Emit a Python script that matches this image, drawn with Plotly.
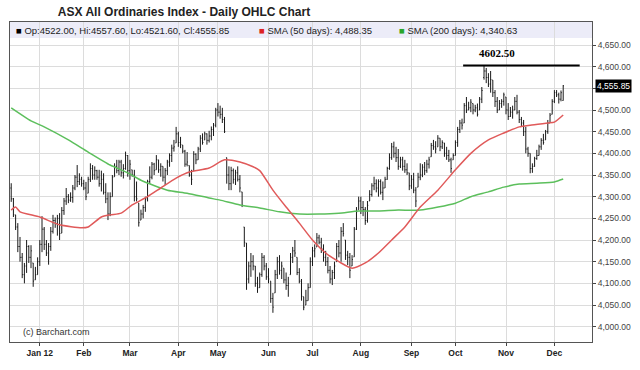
import plotly.graph_objects as go
import pandas as pd

# ---------------- data ----------------
start_date = "2011-12-12"
end_date = "2012-12-07"
holidays = ["2011-12-26", "2011-12-27", "2012-01-02", "2012-01-26",
            "2012-04-06", "2012-04-09", "2012-04-25", "2012-06-11"]

opens = [
    4320, 4295, 4258, 4230, 4185, 4160, 4120, 4140, 4185, 4160, 4147, 4108, 4120,
    4150, 4190, 4225, 4190, 4170, 4185, 4220, 4245, 4238, 4250, 4216, 4268,
    4290, 4300, 4292, 4298, 4320, 4345, 4335, 4340, 4330, 4320, 4308,
    4340, 4365, 4350, 4360, 4345, 4330, 4340, 4310, 4295, 4260, 4300,
    4346, 4370, 4360, 4380, 4355, 4365, 4395, 4360, 4362, 4350, 4300,
    4285, 4246, 4260, 4275, 4295, 4335, 4345, 4375, 4362, 4385, 4362,
    4370, 4345, 4360, 4380, 4395, 4412, 4424, 4445, 4425, 4419, 4405,
    4375, 4372, 4350, 4360, 4398, 4385, 4410, 4435, 4431, 4445, 4430,
    4440, 4455, 4465, 4500, 4495, 4490, 4478, 4390, 4350, 4330, 4360,
    4340, 4355, 4340, 4311, 4230, 4193, 4110, 4140, 4150, 4140, 4100, 4090, 4120, 4160,
    4140, 4115, 4105, 4065, 4078, 4120, 4150, 4130, 4135, 4108, 4095, 4120, 4160, 4175, 4160,
    4125, 4105, 4069, 4050, 4060, 4090, 4150, 4175, 4184, 4205, 4195, 4180, 4160, 4150, 4130,
    4110, 4125, 4150, 4185, 4170, 4220, 4200, 4165, 4160, 4140, 4161, 4225, 4270, 4290, 4275,
    4270, 4245, 4290, 4305, 4325, 4330, 4320, 4335, 4310, 4320, 4340, 4365, 4390, 4415, 4400,
    4390, 4370, 4385, 4370, 4362, 4355, 4325, 4340, 4315, 4322, 4345, 4350, 4368, 4360, 4375,
    4392, 4418, 4415, 4415, 4435, 4415, 4424, 4400, 4395, 4385, 4385, 4395, 4425, 4455, 4470,
    4470, 4510, 4500, 4505, 4515, 4500, 4505, 4500, 4525, 4575, 4590, 4575, 4560, 4569, 4540,
    4520, 4500, 4515, 4520, 4530, 4500, 4485, 4495, 4500, 4520, 4495, 4478, 4470, 4450, 4410,
    4400, 4365, 4370, 4388, 4395, 4415, 4430, 4431, 4450, 4470, 4490, 4520, 4540, 4535, 4525, 4522.00,
]

highs = [
    4331, 4297, 4258, 4239, 4207, 4170, 4147, 4200, 4188, 4188, 4147, 4138, 4160,
    4200, 4255, 4230, 4200, 4193, 4230, 4258, 4252, 4258, 4262, 4276, 4297,
    4320, 4306, 4310, 4327, 4350, 4373, 4354, 4346, 4339, 4334, 4346,
    4377, 4373, 4370, 4362, 4362, 4360, 4354, 4331, 4310, 4310, 4350,
    4377, 4385, 4385, 4385, 4375, 4404, 4396, 4385, 4362, 4362, 4335,
    4285, 4270, 4281, 4300, 4339, 4370, 4380, 4378, 4396, 4385, 4377,
    4370, 4366, 4385, 4400, 4420, 4431, 4461, 4450, 4438, 4419, 4408,
    4403, 4372, 4362, 4405, 4400, 4415, 4442, 4446, 4450, 4446, 4452,
    4462, 4470, 4505, 4516, 4510, 4505, 4484, 4390, 4370, 4369, 4365,
    4362, 4370, 4350, 4311, 4230, 4193, 4150, 4170, 4165, 4140, 4115, 4125, 4170, 4165,
    4147, 4135, 4105, 4078, 4131, 4161, 4165, 4150, 4135, 4125, 4115, 4170, 4184, 4200, 4160,
    4135, 4110, 4069, 4085, 4100, 4160, 4184, 4190, 4216, 4212, 4205, 4190, 4175, 4161, 4140,
    4131, 4150, 4193, 4200, 4230, 4239, 4200, 4175, 4170, 4165, 4230, 4276, 4300, 4300, 4290,
    4276, 4290, 4315, 4331, 4346, 4340, 4340, 4340, 4335, 4346, 4369, 4400, 4424, 4427, 4415,
    4410, 4392, 4392, 4385, 4377, 4355, 4350, 4355, 4322, 4355, 4377, 4375, 4380, 4385, 4392,
    4424, 4431, 4428, 4442, 4435, 4430, 4424, 4415, 4408, 4390, 4400, 4430, 4461, 4477, 4480,
    4516, 4530, 4519, 4525, 4515, 4512, 4515, 4530, 4553, 4602.50, 4597, 4585, 4590, 4569, 4546,
    4530, 4523, 4525, 4540, 4530, 4516, 4507, 4510, 4530, 4535, 4500, 4484, 4477, 4461, 4415,
    4400, 4377, 4392, 4408, 4420, 4435, 4445, 4454, 4477, 4493, 4525, 4546, 4546, 4540, 4545, 4557.60,
]

lows = [
    4288, 4253, 4223, 4172, 4150, 4112, 4100, 4124, 4147, 4135, 4092, 4108, 4120,
    4140, 4172, 4177, 4163, 4143, 4175, 4215, 4228, 4210, 4200, 4216, 4258,
    4281, 4285, 4288, 4286, 4315, 4322, 4327, 4323, 4315, 4292, 4308,
    4334, 4339, 4339, 4339, 4323, 4312, 4305, 4285, 4246, 4255, 4300,
    4346, 4354, 4350, 4346, 4342, 4362, 4346, 4339, 4346, 4289, 4289,
    4231, 4246, 4250, 4265, 4289, 4330, 4340, 4350, 4362, 4355, 4346,
    4335, 4327, 4350, 4369, 4380, 4404, 4424, 4415, 4412, 4400, 4369,
    4370, 4346, 4327, 4360, 4375, 4385, 4403, 4420, 4431, 4420, 4425,
    4430, 4440, 4460, 4485, 4480, 4470, 4447, 4330, 4315, 4315, 4330,
    4327, 4335, 4310, 4276, 4184, 4085, 4100, 4115, 4130, 4092, 4078, 4090, 4115, 4130,
    4108, 4100, 4055, 4032, 4078, 4110, 4120, 4110, 4100, 4085, 4069, 4120, 4147, 4161, 4119,
    4100, 4060, 4038, 4050, 4060, 4090, 4140, 4160, 4184, 4190, 4170, 4150, 4140, 4123, 4100,
    4096, 4110, 4150, 4160, 4150, 4208, 4154, 4142, 4112, 4140, 4161, 4223, 4270, 4260, 4255,
    4235, 4240, 4290, 4300, 4315, 4310, 4300, 4305, 4292, 4320, 4339, 4362, 4385, 4390, 4380,
    4362, 4366, 4360, 4355, 4350, 4315, 4318, 4308, 4276, 4322, 4338, 4345, 4350, 4355, 4365,
    4392, 4408, 4400, 4415, 4405, 4410, 4392, 4385, 4380, 4355, 4385, 4395, 4415, 4447, 4455,
    4470, 4493, 4500, 4495, 4490, 4495, 4485, 4500, 4516, 4570, 4562, 4553, 4540, 4530, 4507,
    4493, 4500, 4505, 4510, 4490, 4477, 4484, 4480, 4500, 4490, 4470, 4461, 4440, 4400, 4392,
    4354, 4355, 4369, 4385, 4395, 4408, 4420, 4431, 4445, 4470, 4490, 4516, 4530, 4515, 4520, 4521.60,
]

closes = [
    4295, 4258, 4230, 4185, 4160, 4120, 4140, 4185, 4160, 4175, 4105, 4120, 4150,
    4190, 4225, 4190, 4170, 4185, 4220, 4245, 4238, 4250, 4215, 4268, 4290,
    4300, 4292, 4298, 4320, 4345, 4335, 4340, 4330, 4320, 4300, 4340,
    4365, 4350, 4360, 4345, 4330, 4340, 4310, 4295, 4260, 4300, 4345,
    4370, 4360, 4380, 4355, 4365, 4395, 4360, 4375, 4350, 4300, 4295,
    4240, 4260, 4275, 4295, 4335, 4345, 4375, 4360, 4385, 4362, 4370,
    4345, 4360, 4380, 4395, 4412, 4415, 4445, 4425, 4420, 4405, 4375,
    4380, 4350, 4340, 4398, 4385, 4410, 4435, 4425, 4445, 4430, 4440,
    4455, 4465, 4500, 4495, 4490, 4478, 4450, 4350, 4330, 4360, 4340,
    4355, 4340, 4320, 4280, 4195, 4110, 4140, 4150, 4140, 4100, 4090, 4120, 4160, 4140,
    4115, 4110, 4065, 4045, 4120, 4150, 4130, 4140, 4108, 4095, 4100, 4160, 4175, 4170, 4125,
    4105, 4070, 4045, 4060, 4090, 4150, 4175, 4180, 4205, 4195, 4180, 4160, 4150, 4130, 4110,
    4125, 4140, 4185, 4170, 4220, 4215, 4165, 4160, 4130, 4155, 4225, 4265, 4290, 4275, 4270,
    4245, 4280, 4305, 4325, 4330, 4320, 4335, 4310, 4320, 4340, 4365, 4390, 4415, 4400, 4390,
    4370, 4385, 4370, 4362, 4355, 4325, 4340, 4315, 4290, 4345, 4350, 4368, 4360, 4375, 4385,
    4418, 4415, 4410, 4435, 4415, 4425, 4400, 4395, 4385, 4365, 4395, 4425, 4455, 4470, 4465,
    4510, 4500, 4505, 4518, 4500, 4505, 4490, 4525, 4545, 4590, 4575, 4560, 4570, 4540, 4520,
    4500, 4515, 4520, 4535, 4500, 4485, 4495, 4500, 4520, 4495, 4478, 4470, 4450, 4410, 4400,
    4365, 4370, 4388, 4395, 4415, 4430, 4425, 4450, 4470, 4488, 4520, 4540, 4535, 4525, 4540, 4555.85,
]

# moving averages at selected trading-day positions
sma50_idx = [0, 2, 4, 13, 22, 32, 35, 41, 45, 50, 55, 62, 68, 75, 81, 90, 97, 104, 110, 113,
             119, 125, 131, 137, 143, 149, 155, 161, 167, 173, 179, 186, 194, 202, 209, 217,
             224, 231, 236, 244, 247, 251]
sma50_val = [4269, 4276, 4265, 4253, 4235, 4228, 4230, 4253, 4258, 4262, 4281, 4300, 4320, 4343,
             4357, 4366, 4385, 4380, 4369, 4360, 4315, 4276, 4239, 4200, 4170, 4150, 4135, 4147,
             4170, 4200, 4230, 4276, 4315, 4362, 4400, 4431, 4447, 4461, 4465, 4470, 4472, 4488.35]
sma200_idx = [0, 9, 15, 26, 35, 45, 53, 59, 71, 80, 90, 95, 104, 113, 122, 131, 140, 149, 158,
              167, 176, 186, 202, 209, 217, 224, 231, 239, 247, 251]
sma200_val = [4505, 4475, 4461, 4431, 4403, 4373, 4355, 4338, 4315, 4308, 4297, 4292, 4281, 4274,
              4265, 4260, 4260, 4262, 4267, 4267, 4269, 4269, 4285, 4300, 4311, 4322, 4329, 4331,
              4334, 4340.63]

y_ticks = [4000, 4050, 4100, 4150, 4200, 4250, 4300, 4350, 4400, 4450, 4500, 4550, 4600, 4650]
month_labels = ["Jan 12", "Feb", "Mar", "Apr", "May", "Jun", "Jul", "Aug", "Sep", "Oct", "Nov", "Dec"]

title_text = "ASX All Ordinaries Index - Daily OHLC Chart"
credit_text = "(c) Barchart.com"

# ---------------- derived ----------------
dates = pd.bdate_range(start_date, end_date)
dates = dates[~dates.isin(pd.to_datetime(holidays))]
idx = list(range(len(closes)))
month_pos = []
for m in range(1, 13):
    month_pos.append(next(i for i, d in enumerate(dates) if d.year == 2012 and d.month == m))

last_c = closes[-1]
peak_val = max(highs)
peak_i = highs.index(peak_val)

FONT = "Liberation Sans, Arial, sans-serif"
L, R, T, B = 9, 45, 22, 28
W, H = 640, 370
PH = H - T - B
PW = W - L - R
Y_BOTTOM = 3964.6
Y_TOP = 4703.1

fig = go.Figure()
fig.add_trace(go.Ohlc(
    x=idx, open=opens, high=highs, low=lows, close=closes,
    increasing=dict(line=dict(color="#1a1a1a", width=1)),
    decreasing=dict(line=dict(color="#1a1a1a", width=1)),
    tickwidth=0.35, showlegend=False, hoverinfo="skip",
))
fig.add_trace(go.Scatter(
    x=sma200_idx, y=sma200_val, mode="lines",
    line=dict(color="#5cbf5c", width=1.5, shape="spline", smoothing=0.6),
    showlegend=False, hoverinfo="skip",
))
fig.add_trace(go.Scatter(
    x=sma50_idx, y=sma50_val, mode="lines",
    line=dict(color="#e05a5a", width=1.5, shape="spline", smoothing=0.6),
    showlegend=False, hoverinfo="skip",
))

# legend strip at top of the plot
strip_h = 16
fig.add_shape(type="rect", xref="x domain", yref="y domain",
              x0=0, x1=1, y0=1 - strip_h / PH, y1=1,
              fillcolor="#ECECF8", line=dict(width=0), layer="below")

def px_x(px):
    return (px - L) / PW

legend_items = [
    (13, "#000000", "Op:%.2f, Hi:%.2f, Lo:%.2f, Cl:%.2f" % (opens[-1], highs[-1], lows[-1], closes[-1])),
    (258, "#dd2222", "SMA (50 days): %s" % format(sma50_val[-1], ",.2f")),
    (399, "#2aa52a", "SMA (200 days): %s" % format(sma200_val[-1], ",.2f")),
]
for xpx, col, txt in legend_items:
    fig.add_annotation(
        xref="paper", yref="paper", x=px_x(xpx), y=1 - 8.5 / PH,
        xanchor="left", yanchor="middle", showarrow=False,
        text="<span style='color:%s'>■</span> %s" % (col, txt),
        font=dict(family=FONT, size=9.5, color="#222"),
    )

# peak marker line and label
fig.add_shape(type="line", xref="x", yref="y",
              x0=peak_i - 9.5, x1=idx[-1] + 7.5, y0=peak_val, y1=peak_val,
              line=dict(color="#000000", width=2))
fig.add_annotation(
    xref="x", yref="y", x=peak_i + 6, y=peak_val, yshift=13,
    text="<b>%.2f</b>" % peak_val, showarrow=False,
    font=dict(family="Liberation Serif, Times New Roman, serif", size=11, color="#000"),
)

# last price badge on the right axis
fig.add_annotation(
    xref="paper", yref="y", x=1, y=last_c, xanchor="left", yanchor="middle",
    xshift=3, text=format(last_c, ",.2f"), showarrow=False,
    bgcolor="#000000", borderpad=1,
    font=dict(family=FONT, size=8.5, color="#ffffff"),
)

# credit
fig.add_annotation(
    xref="paper", yref="paper", x=px_x(20), y=(342 - 331.7) / PH, xanchor="left", yanchor="middle",
    text=credit_text, showarrow=False, font=dict(family=FONT, size=9, color="#333"),
)

fig.update_layout(
    width=W, height=H,
    margin=dict(l=L, r=R, t=T, b=B),
    paper_bgcolor="#ffffff", plot_bgcolor="#ffffff",
    title=dict(text="<b>%s</b>" % title_text, xref="container", yref="container",
               x=184 / W, y=1 - 12 / H, xanchor="center", yanchor="middle",
               font=dict(family=FONT, size=12, color="#222")),
    showlegend=False,
    xaxis=dict(
        range=[-0.55, 264.1], rangeslider=dict(visible=False),
        tickmode="array", tickvals=month_pos, ticktext=month_labels,
        ticks="outside", ticklen=3, tickcolor="#444",
        showgrid=True, gridcolor="#dcdcdc", gridwidth=1, zeroline=False,
        showline=True, linecolor="#555", linewidth=1, mirror=True,
        tickfont=dict(family=FONT, size=8.5, color="#222", weight="bold"),
    ),
    yaxis=dict(
        side="right", range=[Y_BOTTOM, Y_TOP],
        tickmode="array", tickvals=y_ticks,
        ticktext=[format(v, ",.2f") if abs(v - last_c) > 15 else "" for v in y_ticks],
        ticks="outside", ticklen=3, tickcolor="#444",
        showgrid=True, gridcolor="#dcdcdc", gridwidth=1, zeroline=False,
        showline=True, linecolor="#555", linewidth=1, mirror=True,
        tickfont=dict(family=FONT, size=8.5, color="#444"),
    ),
)

fig.write_html("out.html", config={"displayModeBar": False},
               post_script="document.body.style.margin='0';document.body.style.padding='0';")
